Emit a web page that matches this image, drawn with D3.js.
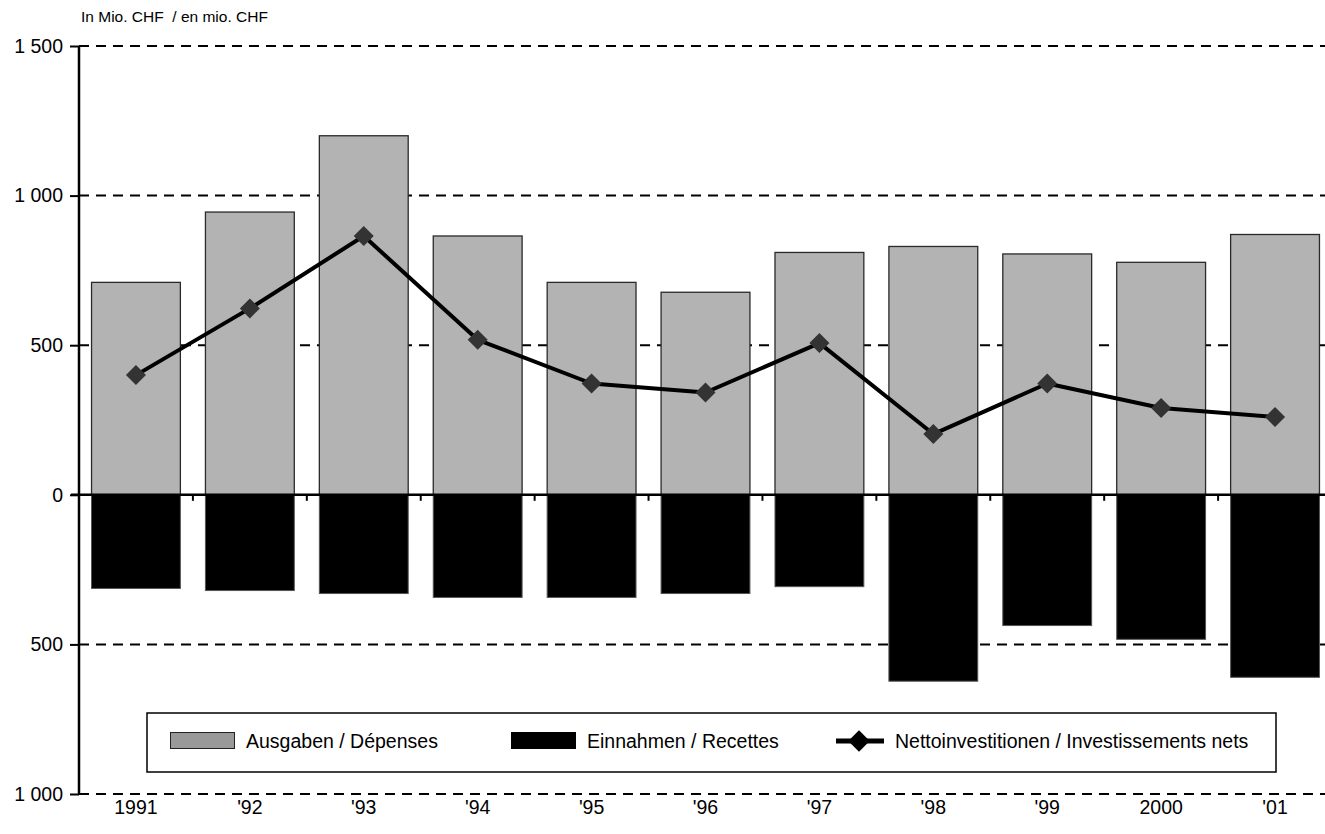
<!DOCTYPE html>
<html>
<head>
<meta charset="utf-8">
<script src="https://cdn.jsdelivr.net/npm/d3@7"></script>
<style>
  html, body { margin: 0; padding: 0; background: #fff; }
  svg { display: block; font-family: "Liberation Sans", Arial, sans-serif; }
</style>
</head>
<body>
<svg id="chart" width="1325" height="834"></svg>
<script>
// Years on the category axis
const years = ["1991", "'92", "'93", "'94", "'95", "'96", "'97", "'98", "'99", "2000", "'01"];
// Expenditure (Ausgaben / Dépenses), mio. CHF
const ausgaben = [710, 945, 1200, 865, 710, 677, 810, 830, 805, 777, 870];
// Revenue (Einnahmen / Recettes), shown below zero
const einnahmen = [-313, -320, -330, -343, -343, -330, -307, -623, -437, -483, -610];
// Net investment (Nettoinvestitionen / Investissements nets)
const netto = [400, 623, 865, 518, 372, 342, 507, 203, 372, 290, 260];
// Value axis ticks
const yTicks = [1500, 1000, 500, 0, -500, -1000];
const yTickLabels = ["1 500", "1 000", "500", "0", "500", "1 000"];

const svg = d3.select("#chart");
const W = 1325;
const FS = 19.5;
const plotLeft = 79, plotRight = 1332, plotTop = 46, plotBottom = 794;

const x = d3.scaleBand().domain(years).range([plotLeft, plotRight]).paddingInner(0.22).paddingOuter(0.11);
const y = d3.scaleLinear().domain([-1000, 1500]).range([plotBottom, plotTop]);

// dashed gridlines
svg.append("g").selectAll("line")
  .data(yTicks.filter(v => v !== 0))
  .join("line")
  .attr("x1", plotLeft).attr("x2", W)
  .attr("y1", d => y(d)).attr("y2", d => y(d))
  .attr("stroke", "#000").attr("stroke-width", 2)
  .attr("stroke-dasharray", "10,7");

// expenditure bars
svg.append("g").selectAll("rect")
  .data(ausgaben)
  .join("rect")
  .attr("x", (d, i) => x(years[i]))
  .attr("width", x.bandwidth())
  .attr("y", d => y(d))
  .attr("height", d => y(0) - y(d))
  .attr("fill", "#b3b3b3")
  .attr("stroke", "#2a2a2a").attr("stroke-width", 1.3);

// revenue bars
svg.append("g").selectAll("rect")
  .data(einnahmen)
  .join("rect")
  .attr("x", (d, i) => x(years[i]))
  .attr("width", x.bandwidth())
  .attr("y", y(0))
  .attr("height", d => y(d) - y(0))
  .attr("fill", "#000")
  .attr("stroke", "#555").attr("stroke-width", 1);

// zero line with category separators
svg.append("line")
  .attr("x1", plotLeft - 8).attr("x2", W)
  .attr("y1", y(0)).attr("y2", y(0))
  .attr("stroke", "#000").attr("stroke-width", 2.5);
svg.append("g").selectAll("line")
  .data(years.slice(1))
  .join("line")
  .attr("x1", d => x(d) - x.step() * x.paddingInner() / 2)
  .attr("x2", d => x(d) - x.step() * x.paddingInner() / 2)
  .attr("y1", y(0)).attr("y2", y(0) + 6)
  .attr("stroke", "#000").attr("stroke-width", 2);

// value axis
const yAxis = d3.axisLeft(y).tickValues(yTicks).tickSize(9).tickPadding(7)
  .tickFormat((d, i) => yTickLabels[i]);
const ya = svg.append("g").attr("transform", `translate(${plotLeft},0)`).call(yAxis)
  .attr("font-family", null).attr("font-size", null);
ya.select(".domain").attr("stroke", "#000").attr("stroke-width", 2.5)
  .attr("d", `M0,${plotTop}V${plotBottom}`);
ya.selectAll(".tick line").attr("stroke", "#000").attr("stroke-width", 2);
ya.selectAll(".tick text").attr("font-size", FS).attr("fill", "#000");

// category labels
svg.append("g").selectAll("text")
  .data(years)
  .join("text")
  .attr("x", d => x(d) + x.bandwidth() / 2)
  .attr("y", 814)
  .attr("text-anchor", "middle")
  .attr("font-size", FS)
  .text(d => d);

// net investment line
const line = d3.line().x((d, i) => x(years[i]) + x.bandwidth() / 2).y(d => y(d));
svg.append("path")
  .datum(netto)
  .attr("d", line)
  .attr("fill", "none").attr("stroke", "#000").attr("stroke-width", 4)
  .attr("stroke-linejoin", "round");
const diamond = d3.symbol().type(d3.symbolSquare).size(200);
svg.append("g").selectAll("path")
  .data(netto)
  .join("path")
  .attr("d", diamond)
  .attr("transform", (d, i) => `translate(${x(years[i]) + x.bandwidth() / 2},${y(d)}) rotate(45)`)
  .attr("fill", "#333");

// unit label
svg.append("text")
  .attr("x", 81).attr("y", 22)
  .attr("font-size", 15.5)
  .style("white-space", "pre")
  .text("In Mio. CHF  / en mio. CHF");

// legend
const lg = svg.append("g");
lg.append("rect").attr("x", 147).attr("y", 713).attr("width", 1129).attr("height", 59)
  .attr("fill", "#fff").attr("stroke", "#000").attr("stroke-width", 1.5);
lg.append("rect").attr("x", 170.5).attr("y", 732.5).attr("width", 64).attr("height", 16)
  .attr("fill", "#999").attr("stroke", "#222").attr("stroke-width", 1);
lg.append("text").attr("x", 246).attr("y", 748).attr("font-size", FS).text("Ausgaben / Dépenses");
lg.append("rect").attr("x", 511).attr("y", 732).attr("width", 65).attr("height", 17)
  .attr("fill", "#000");
lg.append("text").attr("x", 587).attr("y", 748).attr("font-size", FS).text("Einnahmen / Recettes");
lg.append("line").attr("x1", 836).attr("x2", 884).attr("y1", 741).attr("y2", 741)
  .attr("stroke", "#000").attr("stroke-width", 5);
lg.append("path").attr("d", d3.symbol().type(d3.symbolSquare).size(230))
  .attr("transform", "translate(859,741) rotate(45)").attr("fill", "#000");
lg.append("text").attr("x", 895).attr("y", 748).attr("font-size", FS)
  .text("Nettoinvestitionen / Investissements nets");
</script>
</body>
</html>
